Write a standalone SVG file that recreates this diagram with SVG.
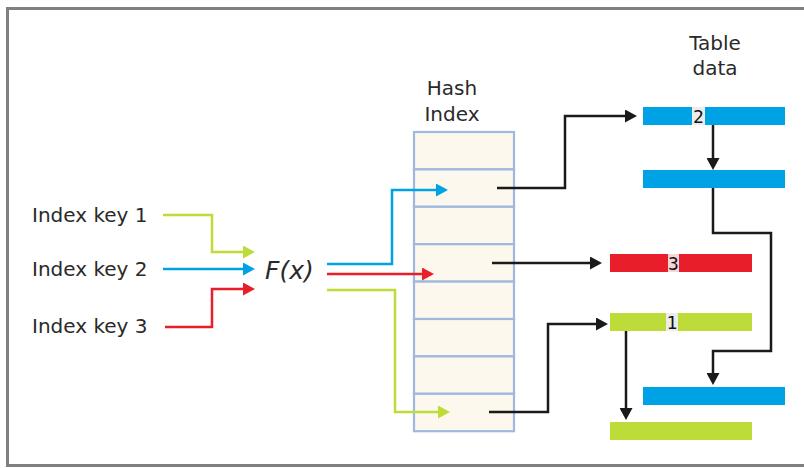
<svg xmlns="http://www.w3.org/2000/svg" width="804" height="468" viewBox="0 0 804 468">
<style>
.t{font-family:"DejaVu Sans","Verdana",sans-serif;font-size:20px;fill:#2a2a2a}
.fx{font-family:"DejaVu Sans",sans-serif;font-style:italic;font-size:25px;fill:#2a2a2a}
.d{font-family:"DejaVu Sans Mono","Liberation Mono",monospace;font-size:18px;fill:#111;text-anchor:middle}
.c{fill:none;stroke-width:2.5}
.row{fill:#fdf8ee;stroke:#a0b8e0;stroke-width:2.2}
.lb{fill:#ececec}
</style>
<defs>
<marker id="aB" markerUnits="userSpaceOnUse" markerWidth="13" markerHeight="13" refX="4" refY="6.5" orient="auto"><path d="M0,0 L12,6.5 L0,13 z" fill="#00a2e6"/></marker>
<marker id="aR" markerUnits="userSpaceOnUse" markerWidth="13" markerHeight="13" refX="4" refY="6.5" orient="auto"><path d="M0,0 L12,6.5 L0,13 z" fill="#e81f2a"/></marker>
<marker id="aG" markerUnits="userSpaceOnUse" markerWidth="13" markerHeight="13" refX="4" refY="6.5" orient="auto"><path d="M0,0 L12,6.5 L0,13 z" fill="#bddc3a"/></marker>
<marker id="aK" markerUnits="userSpaceOnUse" markerWidth="13" markerHeight="13" refX="4" refY="6.5" orient="auto"><path d="M0,0 L12,6.5 L0,13 z" fill="#1a1a1a"/></marker>
</defs>
<rect width="804" height="468" fill="#fff"/>
<path d="M820,8.5 H7.5 V465.5 H820" fill="none" stroke="#808080" stroke-width="3"/>

<g id="key1"><text class="t" x="32" y="222">Index key 1</text></g>
<g id="key2"><text class="t" x="32" y="276">Index key 2</text></g>
<g id="key3"><text class="t" x="32" y="333">Index key 3</text></g>
<g id="fx"><text class="fx" x="265" y="279">F(x)</text></g>

<g id="hash-index">
<text class="t" x="452" y="95" text-anchor="middle">Hash</text>
<text class="t" x="452" y="121" text-anchor="middle">Index</text>
<rect class="row" x="414" y="132" width="100" height="37.4"/>
<rect class="row" x="414" y="169.4" width="100" height="37.4"/>
<rect class="row" x="414" y="206.8" width="100" height="37.4"/>
<rect class="row" x="414" y="244.2" width="100" height="37.4"/>
<rect class="row" x="414" y="281.6" width="100" height="37.4"/>
<rect class="row" x="414" y="319" width="100" height="37.4"/>
<rect class="row" x="414" y="356.4" width="100" height="37.4"/>
<rect class="row" x="414" y="393.8" width="100" height="37.4"/>
</g>

<g id="table-data-title">
<text class="t" x="715" y="50" text-anchor="middle">Table</text>
<text class="t" x="715" y="75" text-anchor="middle">data</text>
</g>

<g id="row-2a"><rect x="643" y="107" width="142" height="18" fill="#00a2e6"/><rect class="lb" x="692" y="107" width="13" height="18"/><text class="d" x="698.5" y="122.5">2</text></g>
<g id="row-2b"><rect x="643" y="170" width="142" height="18" fill="#00a2e6"/></g>
<g id="row-3"><rect x="610" y="254" width="142" height="18" fill="#e81f2a"/><rect x="668" y="254" width="11" height="18" fill="#f1d6da"/><text class="d" x="673.5" y="269.5">3</text></g>
<g id="row-1a"><rect x="610" y="313" width="142" height="18" fill="#bddc3a"/><rect class="lb" x="666" y="313" width="12" height="18"/><text class="d" x="672" y="328.5">1</text></g>
<g id="row-2c"><rect x="643" y="387" width="142" height="18" fill="#00a2e6"/></g>
<g id="row-1b"><rect x="610" y="422" width="142" height="18" fill="#bddc3a"/></g>

<g id="connectors">
<path class="c" stroke="#bddc3a" d="M163,215 H212 V252 H247" marker-end="url(#aG)"/>
<path class="c" stroke="#00a2e6" d="M163,269 H247" marker-end="url(#aB)"/>
<path class="c" stroke="#e81f2a" d="M165,327 H212 V289 H247" marker-end="url(#aR)"/>
<path class="c" stroke="#00a2e6" d="M327,264 H392 V190 H440" marker-end="url(#aB)"/>
<path class="c" stroke="#e81f2a" d="M327,274 H426" marker-end="url(#aR)"/>
<path class="c" stroke="#bddc3a" d="M327,290 H395 V412 H442" marker-end="url(#aG)"/>
<path class="c" stroke="#1a1a1a" d="M497,188 H565 V116 H629" marker-end="url(#aK)"/>
<path class="c" stroke="#1a1a1a" d="M713,125 V162" marker-end="url(#aK)"/>
<path class="c" stroke="#1a1a1a" d="M713,188 V233 H771 V351 H713 V377" marker-end="url(#aK)"/>
<path class="c" stroke="#1a1a1a" d="M492,263 H594" marker-end="url(#aK)"/>
<path class="c" stroke="#1a1a1a" d="M489,412 H548 V324 H600" marker-end="url(#aK)"/>
<path class="c" stroke="#1a1a1a" d="M626,331 V412" marker-end="url(#aK)"/>
</g>
</svg>
